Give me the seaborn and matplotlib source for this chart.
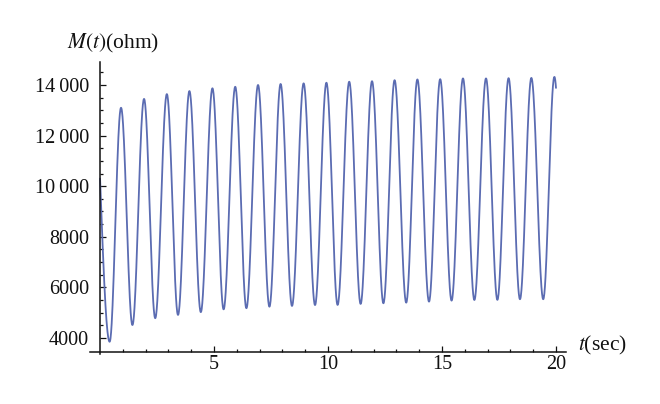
import numpy as np
import pandas as pd
import matplotlib
matplotlib.use('Agg')
import matplotlib.pyplot as plt
from matplotlib.ticker import FixedLocator
import seaborn as sns

# values
t_start, m_start = 0.0, 10300
t_end = 20.0

trough_t = [0.42, 1.42, 2.42, 3.42, 4.42, 5.42, 6.42, 7.43, 8.42, 9.43,
            10.42, 11.43, 12.43, 13.43, 14.43, 15.42, 16.42, 17.43, 18.42, 19.44]
trough_m = [3850, 4510, 4780, 4910, 5020, 5130, 5175, 5235, 5265, 5300,
            5305, 5345, 5370, 5395, 5435, 5475, 5500, 5505, 5530, 5530]

peak_t = [0.92, 1.93, 2.93, 3.92, 4.93, 5.93, 6.93, 7.92, 8.93, 9.93,
          10.93, 11.93, 12.92, 13.92, 14.92, 15.92, 16.93, 17.92, 18.92, 19.93]
peak_m = [13100, 13450, 13640, 13760, 13870, 13930, 14000, 14040, 14065, 14090,
          14130, 14150, 14190, 14220, 14230, 14260, 14260, 14270, 14280, 14320]

y_major = [4000, 6000, 8000, 10000, 12000, 14000]
y_labels = ['4000', '6000', '8000', '10\u2009000', '12\u2009000', '14\u2009000']
x_major = [5, 10, 15, 20]

# alternate the extremes: trough, peak, trough, peak ...
ext_t = [v for pair in zip(trough_t, peak_t) for v in pair]
ext_m = [v for pair in zip(trough_m, peak_m) for v in pair]

# smooth the curve between the read extremes with half cosine arcs
tt, mm = [], []
s = np.linspace(0, 1, 40)
tt.extend(t_start + (ext_t[0] - t_start) * s)
mm.extend(m_start + (ext_m[0] - m_start) * np.sin(np.pi / 2 * s))
for i in range(len(ext_t) - 1):
    t0, t1 = ext_t[i], ext_t[i + 1]
    m0, m1 = ext_m[i], ext_m[i + 1]
    tt.extend(t0 + (t1 - t0) * s[1:])
    mm.extend(m0 + (m1 - m0) * (1 - np.cos(np.pi * s[1:])) / 2)
# last bit past the final peak (toward the next trough)
half = ext_t[-1] - ext_t[-2]
seg = np.linspace(0, 1, 20)
nxt = trough_m[-1]
tt.extend(ext_t[-1] + (t_end - ext_t[-1]) * seg[1:])
frac = (t_end - ext_t[-1]) / half
mm.extend(ext_m[-1] + (nxt - ext_m[-1]) * (1 - np.cos(np.pi * frac * seg[1:])) / 2)

curve = pd.DataFrame({'t': tt, 'M': mm})

sns.set_style('white')
plt.rcParams['font.family'] = ['Liberation Serif', 'DejaVu Serif']
plt.rcParams['mathtext.fontset'] = 'stix'

fig = plt.figure(figsize=(6.6, 4.04), dpi=100)
ax = fig.add_axes([0.1364, 0.1228, 0.7212, 0.7232])

sns.lineplot(data=curve, x='t', y='M', sort=False, estimator=None,
             color='#5b6cb2', linewidth=1.3, ax=ax)

ax.set_xlim(-0.44, 20.44)
ax.set_ylim(3350, 14900)

for side in ['top', 'right']:
    ax.spines[side].set_visible(False)
ax.spines['left'].set_position(('data', 0))
ax.spines['bottom'].set_position(('data', 3450))
for side in ['left', 'bottom']:
    ax.spines[side].set_color('#111111')
    ax.spines[side].set_linewidth(1.1)

ax.set_yticks(y_major)
ax.set_yticklabels(y_labels)
ax.yaxis.set_minor_locator(FixedLocator([v for v in range(4500, 15000, 500) if v not in y_major]))
ax.set_xticks(x_major)
ax.set_xticklabels([str(v) for v in x_major])
ax.xaxis.set_minor_locator(FixedLocator([v for v in range(1, 21) if v not in x_major]))

ax.tick_params(axis='y', which='major', direction='in', length=4.5, width=0.9,
               color='#111111', labelsize=14.5, labelcolor='#111111', pad=8, left=True)
ax.tick_params(axis='y', which='minor', direction='in', length=2.5, width=0.9,
               color='#111111', left=True)
ax.tick_params(axis='x', which='major', direction='in', length=4.5, width=0.9,
               color='#111111', labelsize=14.5, labelcolor='#111111', pad=2, bottom=True)
ax.tick_params(axis='x', which='minor', direction='in', length=2.5, width=0.9,
               color='#111111', bottom=True)

ax.set_xlabel('')
ax.set_ylabel('')
fig.text(0.171, 0.893, r'$M(t)$(ohm)', fontsize=15.5, color='#111111',
         ha='center', va='center')
fig.text(0.876, 0.146, r'$t$(sec)', fontsize=15.5, color='#111111',
         ha='left', va='center')

fig.savefig('out.png', dpi=100)
